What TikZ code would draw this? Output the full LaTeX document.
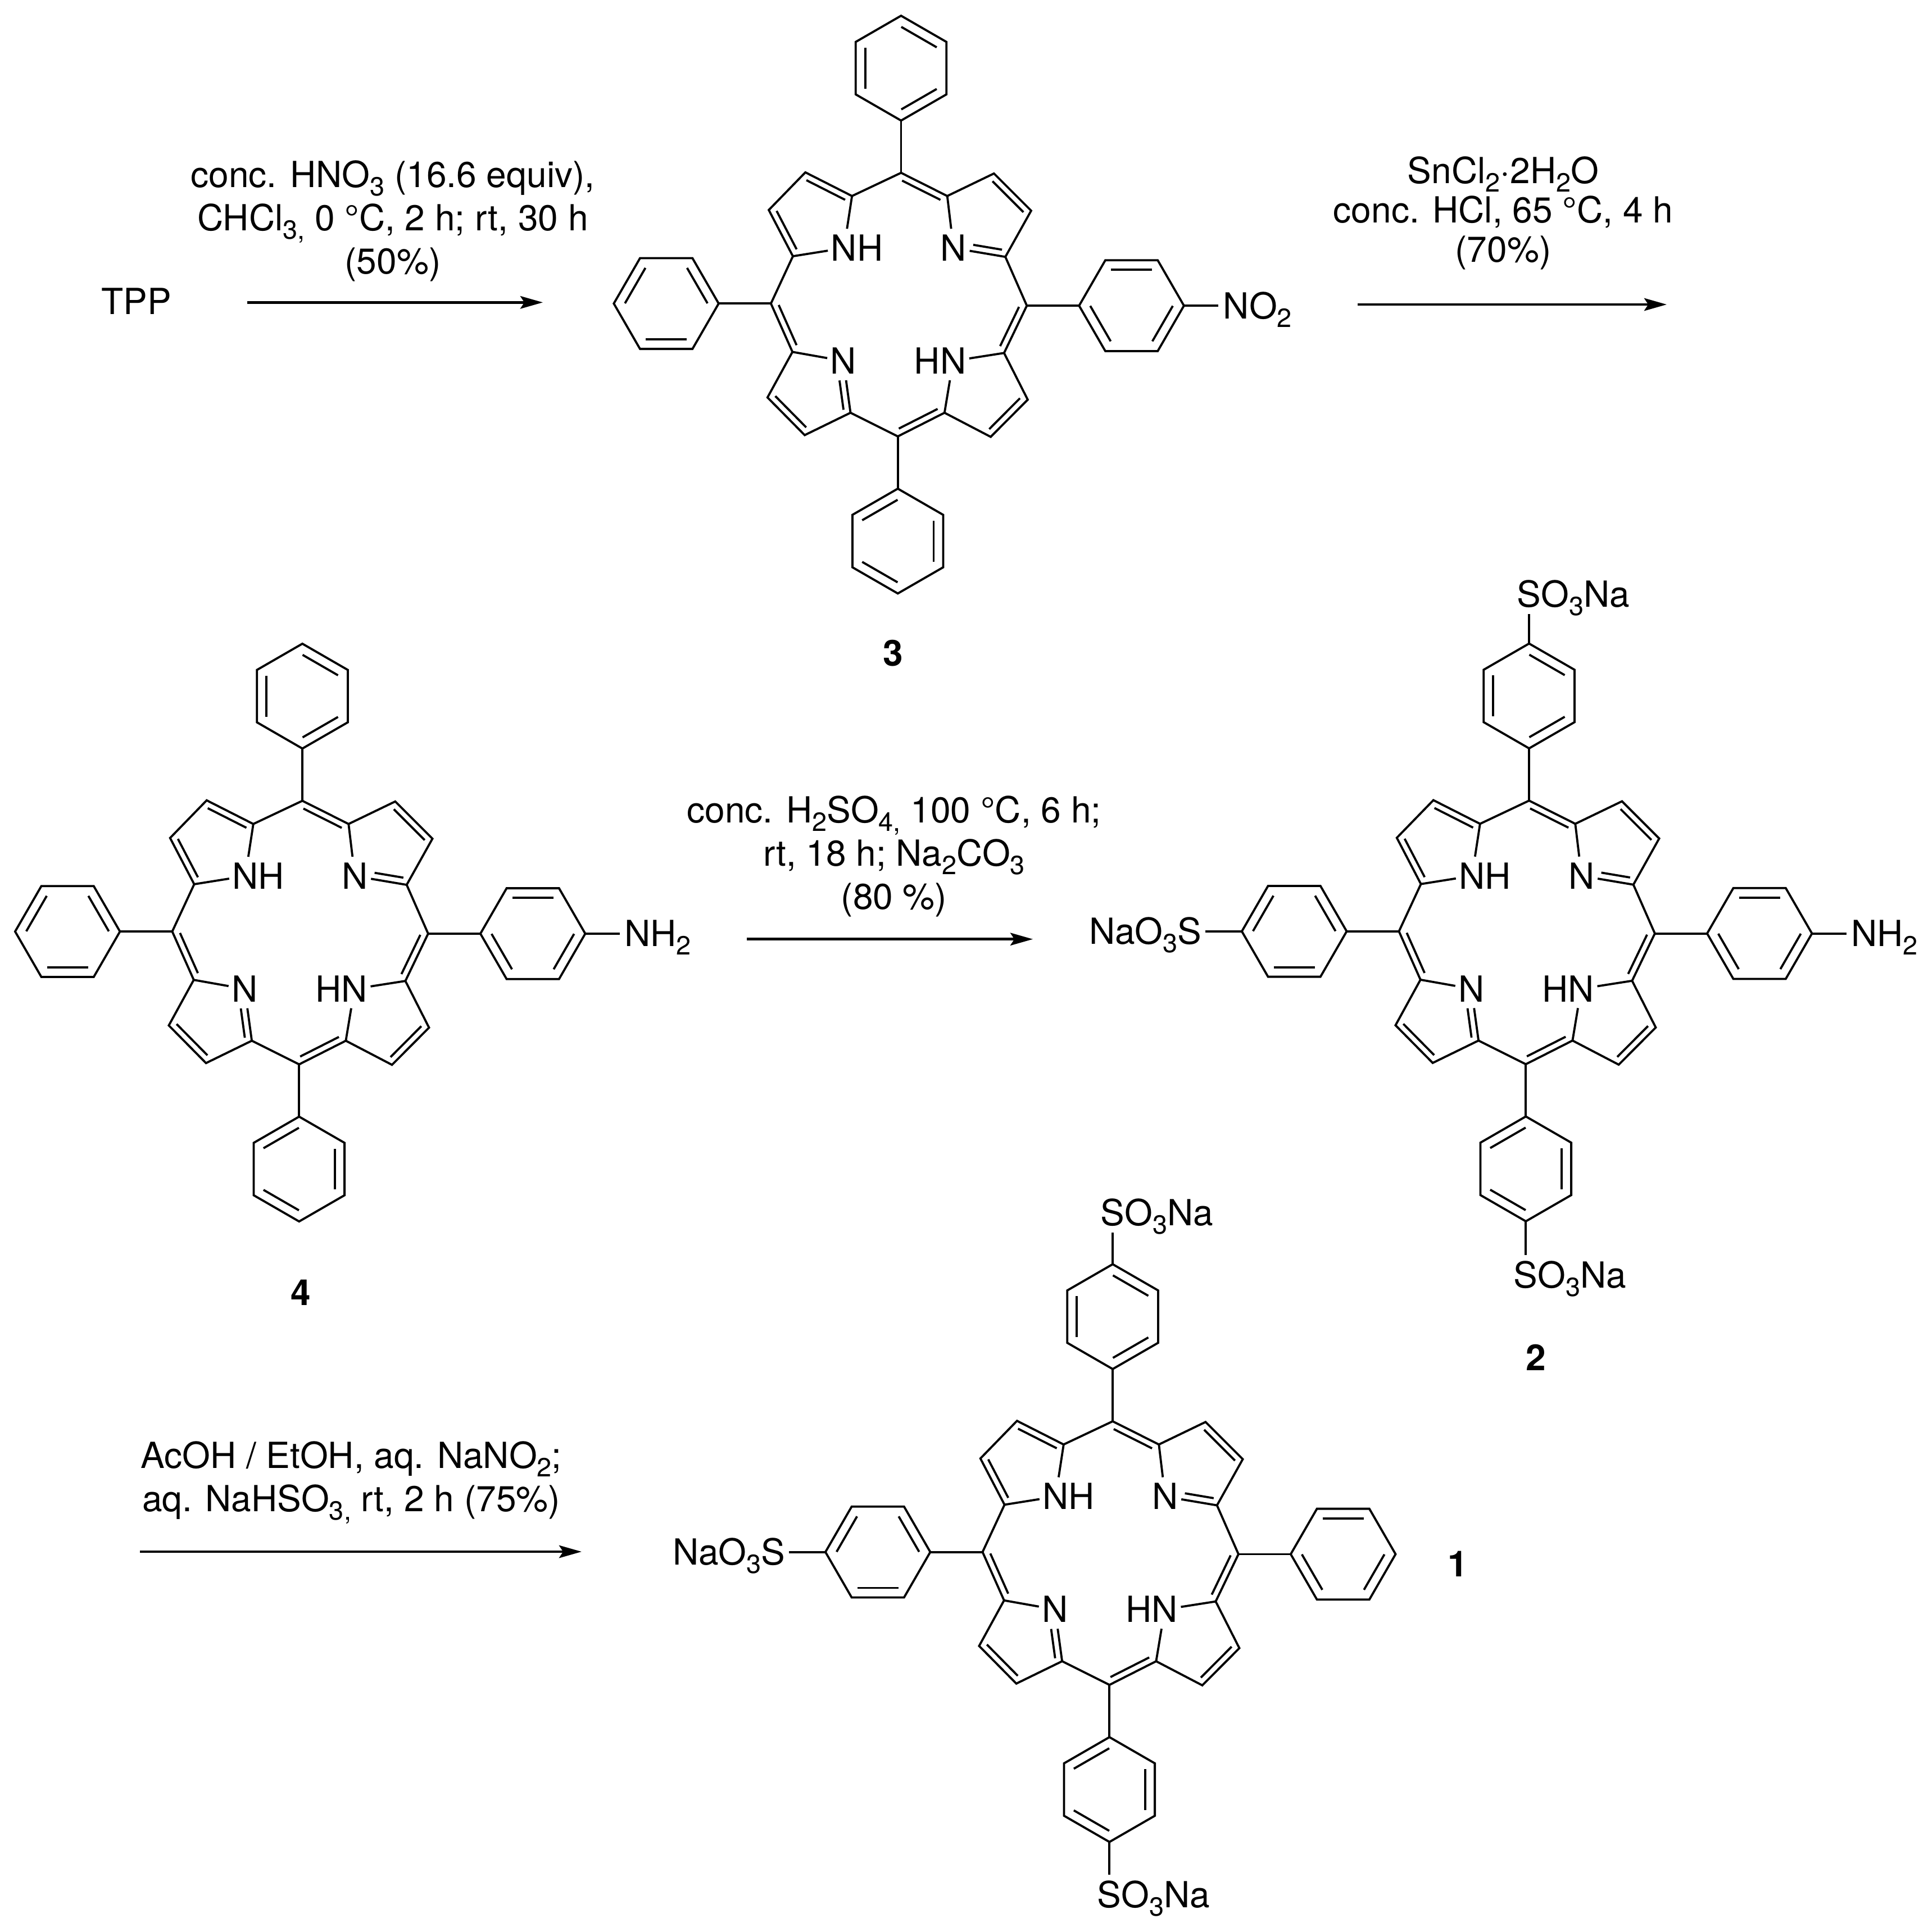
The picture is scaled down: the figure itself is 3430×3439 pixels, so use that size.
\documentclass[tikz,border=0pt]{standalone}
\usepackage{fontspec}
\setmainfont{TeX Gyre Heros}
\usetikzlibrary{calc,arrows.meta}
\newcommand{\sbs}[1]{\raisebox{-3.75pt}{\fontsize{11.7}{11.7}\selectfont #1}}
\tikzset{
  bond/.style={line width=0.95pt,line join=miter,line cap=butt},
  rxnarrow/.style={line width=1.15pt,-{Stealth[length=10pt,width=5.6pt,inset=1.8pt]}},
  txt/.style={inner sep=0pt,font=\fontsize{16}{19.25}\selectfont},
  cond/.style={txt,align=center,anchor=base},
  tight/.style={font=\fontsize{16}{17.5}\selectfont},
  atom/.style={txt,text height=11.5pt,text depth=0pt,minimum width=14pt,minimum height=16.8pt},
  subN/.style={atom,minimum width=15.5pt},
  subS/.style={atom,minimum width=13.5pt,minimum height=17.5pt},
  cpd/.style={txt,anchor=base,font=\fontsize{16}{19.25}\selectfont\bfseries},
}
% inner line of a double bond, on the left of a -> b
\newcommand{\dblx}[5]{\draw[bond] ($(#2)!#3!(#4)!#1!90:(#4)$) -- ($(#2)!#5!(#4)!#1!-90:(#2)$);}
\newcommand{\dbl}[2]{\dblx{2.9pt}{#1}{.085}{#2}{.915}}
% benzene ring: prefix, centre, angle of the vertex that carries the ring
\newcommand{\benzene}[4]{%
  \begin{scope}[shift={(#2,#3)}]
    \foreach \k in {0,...,5}{\coordinate (#1v\k) at ({#4+60*\k}:93.3);}
  \end{scope}
  \draw[bond] (#1v0)--(#1v1)--(#1v2)--(#1v3)--(#1v4)--(#1v5)--cycle;
  \foreach \pa/\pb in {0/1,2/3,4/5}{\dblx{4.25pt}{#1v\pa}{.11}{#1v\pb}{.89}}
}
% porphyrin core with four aryl rings: prefix, centre x, centre y
\newcommand{\porph}[3]{%
  \begin{scope}[shift={(#2,#3)}]
    \coordinate (#1T) at (3.1,234.6);
    \coordinate (#1a8) at (85.3,193.3);
    \coordinate (#1b8) at (168.4,233.4);
    \coordinate (#1b7) at (234.6,167.2);
    \coordinate (#1a7) at (188.7,85);
    \coordinate (#1R) at (226.9,-1.9);
    \coordinate (#1a6) at (186.4,-86.1);
    \coordinate (#1b6) at (228.5,-169.2);
    \coordinate (#1b5) at (162.6,-235.4);
    \coordinate (#1a5) at (80.4,-192.5);
    \coordinate (#1B) at (-2.7,-234.6);
    \coordinate (#1a4) at (-86.9,-192.5);
    \coordinate (#1b4) at (-168.4,-232.3);
    \coordinate (#1b3) at (-234.6,-165.3);
    \coordinate (#1a3) at (-190.2,-84.2);
    \coordinate (#1L) at (-228.5,1.9);
    \coordinate (#1a2) at (-189.4,86.1);
    \coordinate (#1b2) at (-232.3,168.4);
    \coordinate (#1b1) at (-167.2,235.4);
    \coordinate (#1a1) at (-84.2,193.3);
    \node[atom] (#1N1) at (-98.4,100.6) {N\rlap{H}};
    \node[atom] (#1N2) at (96.4,100.6) {N};
    \node[atom] (#1N3) at (-99.5,-100.3) {N};
    \node[atom] (#1N4) at (95.7,-100.3) {\llap{H}N};
    \benzene{#1t}{3.1}{420.9}{-90}
    \benzene{#1b}{-2.7}{-420.9}{90}
    \benzene{#1l}{-414.8}{1.9}{0}
    \benzene{#1r}{413.2}{-1.9}{180}
  \end{scope}
  \draw[bond] (#1T)--(#1a1)--(#1b1)--(#1b2)--(#1a2)--(#1L)--(#1a3)--(#1b3)--(#1b4)--(#1a4)
     --(#1B)--(#1a5)--(#1b5)--(#1b6)--(#1a6)--(#1R)--(#1a7)--(#1b7)--(#1b8)--(#1a8)--cycle;
  \draw[bond] (#1a1)--(#1N1); \draw[bond] (#1a2)--(#1N1);
  \draw[bond] (#1a8)--(#1N2); \draw[bond] (#1a7)--(#1N2);
  \draw[bond] (#1a3)--(#1N3); \draw[bond] (#1a4)--(#1N3);
  \draw[bond] (#1a5)--(#1N4); \draw[bond] (#1a6)--(#1N4);
  \draw[bond] (#1T)--(#1tv0); \draw[bond] (#1B)--(#1bv0);
  \draw[bond] (#1L)--(#1lv0); \draw[bond] (#1R)--(#1rv0);
  \dbl{#1a1}{#1b1} \dbl{#1b2}{#1a2} \dbl{#1a8}{#1T} \dbl{#1b7}{#1b8}
  \dbl{#1a6}{#1R} \dbl{#1b5}{#1b6} \dbl{#1B}{#1a5} \dbl{#1b3}{#1b4} \dbl{#1L}{#1a3}
  \dblx{2.9pt}{#1N2}{.36}{#1a7}{.915}
  \dblx{2.9pt}{#1a4}{.075}{#1N3}{.64}
}
\begin{document}
\begin{tikzpicture}[x=0.25pt,y=0.25pt]
\path[fill=white,use as bounding box] (0,0) rectangle (3430,-3439);

% compound 3
\porph{m}{1600.4}{-542.2}
\node[subN] (mNO) at ($(mrv3)+(93,0)$) {N\rlap{O\sbs{2}}};
\draw[bond] (mrv3)--(mNO);
\node[cpd] (lab3) at (1589,-1185) {3};

% compound 4
\porph{d}{535}{-1660}
\node[subN] (dNH) at ($(drv3)+(93,0)$) {N\rlap{H\sbs{2}}};
\draw[bond] (drv3)--(dNH);
\node[cpd] (lab4) at (535.6,-2323) {4};

% compound 2
\porph{c}{2718}{-1659.7}
\node[subN] (cNH) at ($(crv3)+(93,0)$) {N\rlap{H\sbs{2}}};
\draw[bond] (crv3)--(cNH);
\node[subS] (cS1) at ($(ctv3)+(0,88)$) {S\rlap{O\sbs{3}Na}};
\draw[bond] (ctv3)--(cS1);
\node[subS] (cS2) at ($(cbv3)+(0,-96)$) {S\rlap{O\sbs{3}Na}};
\draw[bond] (cbv3)--(cS2);
\node[subS] (cS3) at ($(clv3)+(-93,0)$) {\llap{NaO\sbs{3}}S};
\draw[bond] (clv3)--(cS3);
\node[cpd] (lab2) at (2733,-2439) {2};

% compound 1
\porph{a}{1977}{-2764.5}
\node[subS] (aS1) at ($(atv3)+(0,92)$) {S\rlap{O\sbs{3}Na}};
\draw[bond] (atv3)--(aS1);
\node[subS] (aS2) at ($(abv3)+(0,-94)$) {S\rlap{O\sbs{3}Na}};
\draw[bond] (abv3)--(aS2);
\node[subS] (aS3) at ($(alv3)+(-93,0)$) {\llap{NaO\sbs{3}}S};
\draw[bond] (alv3)--(aS3);
\node[cpd] (lab1) at (2594,-2806) {1};

% reaction arrows
\coordinate (r1s) at (440,-538.3);  \coordinate (r1e) at (966,-538.3);
\coordinate (r2s) at (2416,-542);   \coordinate (r2e) at (2966,-542);
\coordinate (r3s) at (1329,-1671.7);\coordinate (r3e) at (1838,-1671.7);
\coordinate (r4s) at (249,-2762);   \coordinate (r4e) at (1035,-2762);
\draw[rxnarrow] (r1s)--(r1e);
\draw[rxnarrow] (r2s)--(r2e);
\draw[rxnarrow] (r3s)--(r3e);
\draw[rxnarrow] (r4s)--(r4e);

% texts
\node[txt,anchor=base] (tpp) at (243,-559) {TPP};
\node[cond] (c1) at (699,-487) {conc. HNO\sbs{3} (16.6 equiv),\\CHCl\sbs{3,} 0 °C, 2 h; rt, 30 h\\(50\%)};
\node[cond,tight] (c2) at (2675,-466) {SnCl\sbs{2}·2H\sbs{2}O\\conc. HCl, 65 °C, 4 h\\(70\%)};
\node[cond] (c3) at (1591,-1618) {conc. H\sbs{2}SO\sbs{4,} 100 °C, 6 h;\\rt, 18 h; Na\sbs{2}CO\sbs{3}\\(80 \%)};
\node[cond] (c4) at (625,-2690.7) {AcOH / EtOH, aq. NaNO\sbs{2};\\aq. NaHSO\sbs{3,} rt, 2 h (75\%)};
\end{tikzpicture}
\end{document}
